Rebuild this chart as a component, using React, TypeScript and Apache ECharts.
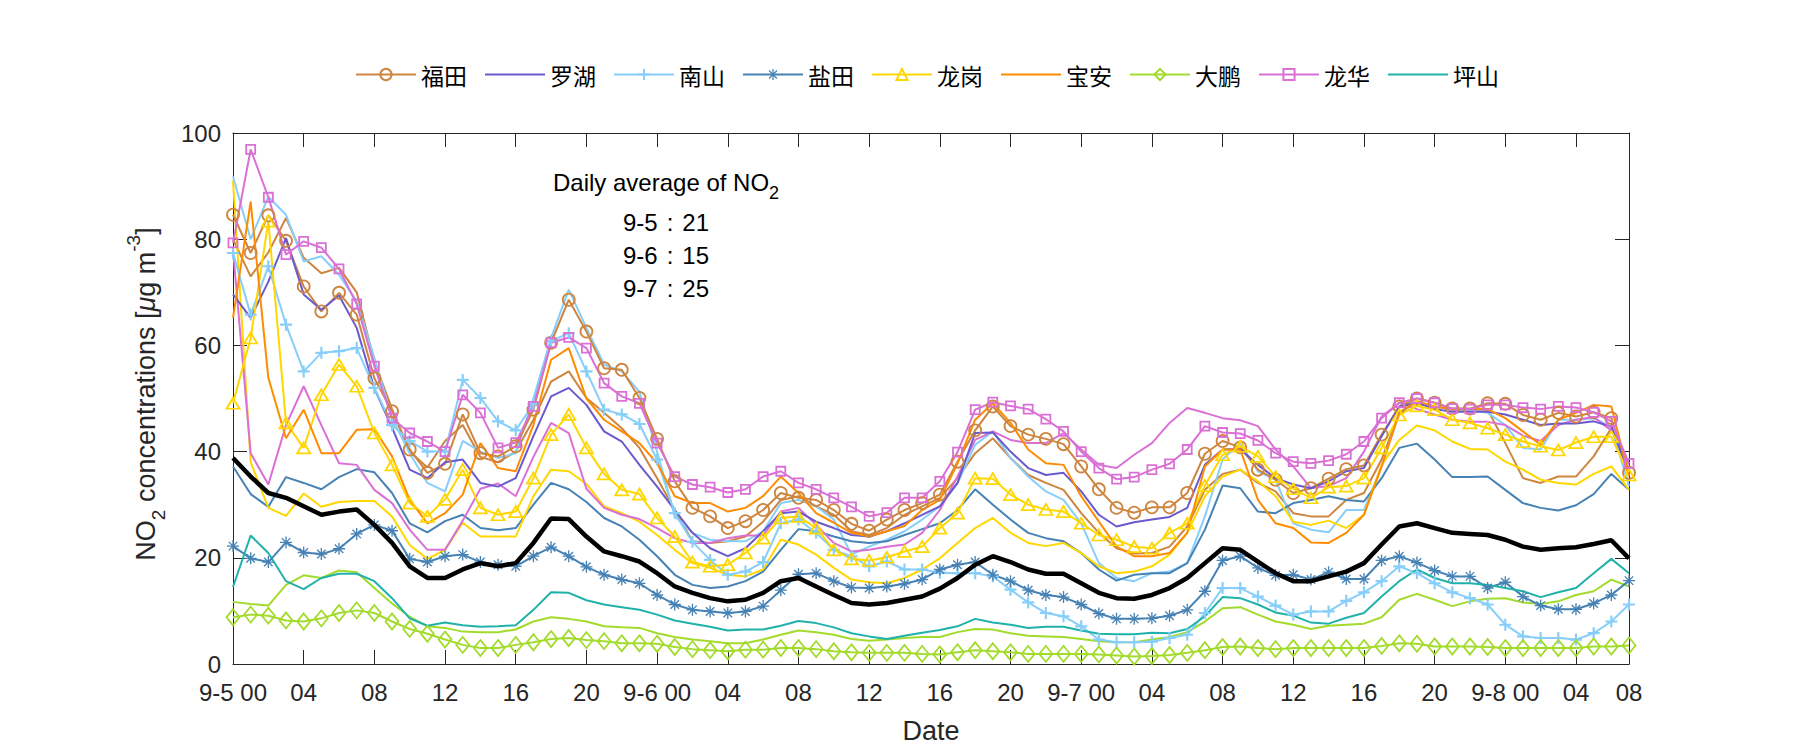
import React, { useEffect, useRef } from 'react';
import * as echarts from 'echarts';

// x tick positions (hour index) and their texts
const tickValues = [0, 4, 8, 12, 16, 20, 24, 28, 32, 36, 40, 44, 48, 52, 56, 60, 64, 68, 72, 76, 79];
const tickTexts = ['9-5 00', '04', '08', '12', '16', '20', '9-6 00', '04', '08', '12', '16', '20', '9-7 00', '04', '08', '12', '16', '20', '9-8 00', '04', '08'];

const stationNames = ['福田', '罗湖', '南山', '盐田', '龙岗', '宝安', '大鹏', '龙华', '坪山'];

const futian = [84.6, 77.4, 84.5, 79.7, 71.1, 66.4, 69.9, 65.8, 53.8, 47.6,
  40.4, 36.0, 37.7, 47.0, 39.7, 39.1, 41.0, 47.9, 60.5, 68.6,
  62.6, 55.7, 55.4, 50.1, 42.4, 34.4, 29.4, 27.8, 25.6, 26.9,
  29.0, 32.2, 31.3, 30.9, 29.0, 26.4, 25.1, 27.2, 29.0, 30.3,
  31.9, 38.1, 44.0, 48.5, 44.8, 43.2, 42.4, 41.4, 37.2, 32.9,
  29.4, 28.5, 29.5, 29.5, 32.2, 39.6, 42.0, 40.8, 36.6, 34.7,
  32.2, 33.1, 34.9, 36.7, 37.4, 43.2, 48.5, 50.0, 49.2, 48.1,
  48.1, 49.1, 49.0, 46.9, 46.0, 47.3, 46.6, 47.4, 46.3, 36.0];

const luohu = [69.6, 65.2, 72.0, 80.2, 69.6, 66.7, 69.4, 63.3, 51.9, 44.5,
  36.6, 35.0, 38.0, 38.5, 34.1, 33.4, 35.0, 42.9, 50.4, 52.0,
  48.8, 43.8, 41.9, 37.5, 33.4, 29.0, 24.7, 21.8, 20.3, 21.8,
  25.0, 28.4, 28.7, 26.8, 25.6, 24.3, 24.0, 25.0, 26.5, 28.1,
  29.7, 34.1, 43.5, 43.6, 40.0, 36.9, 35.6, 36.0, 32.5, 28.1,
  25.9, 26.7, 27.2, 27.7, 29.4, 37.5, 40.4, 40.5, 37.5, 35.0,
  33.8, 33.1, 34.4, 36.3, 36.9, 42.9, 48.5, 49.2, 48.0, 47.5,
  47.5, 47.5, 47.0, 46.0, 45.0, 45.3, 45.3, 45.7, 44.7, 36.0];

const nanshan = [77.4, 65.8, 74.9, 63.9, 55.1, 58.6, 58.9, 59.5, 52.0, 45.0,
  42.0, 40.0, 40.0, 53.5, 50.1, 45.7, 44.0, 49.0, 60.8, 62.3,
  55.1, 47.9, 47.0, 45.2, 38.5, 28.4, 23.0, 19.6, 16.8, 17.4,
  19.2, 26.5, 27.2, 24.7, 21.5, 20.3, 18.4, 19.3, 17.8, 17.8,
  17.2, 17.1, 17.1, 16.5, 14.0, 11.6, 9.6, 9.0, 7.1, 4.6,
  4.1, 4.1, 4.2, 4.9, 5.5, 9.6, 14.3, 14.3, 12.7, 11.0,
  9.3, 9.9, 9.9, 11.9, 13.5, 15.6, 18.4, 17.1, 15.2, 13.5,
  12.4, 11.2, 7.4, 5.2, 4.9, 4.9, 4.6, 5.8, 8.0, 11.2];

const yantian = [22.2, 19.9, 19.2, 22.9, 21.0, 20.7, 21.7, 24.5, 26.2, 25.1,
  19.8, 19.2, 20.3, 20.6, 19.2, 18.7, 18.4, 20.3, 22.0, 20.3,
  18.3, 16.8, 15.9, 15.2, 13.0, 11.2, 10.2, 9.9, 9.6, 9.9,
  10.9, 13.9, 16.9, 17.1, 15.6, 14.4, 14.3, 14.6, 15.1, 15.9,
  17.8, 18.7, 19.2, 16.8, 15.6, 13.9, 13.0, 12.6, 11.2, 9.5,
  8.5, 8.5, 8.6, 9.1, 10.2, 13.7, 19.5, 20.3, 18.1, 16.7,
  16.8, 15.9, 17.3, 16.0, 16.0, 19.5, 20.3, 19.1, 17.6, 16.5,
  16.5, 14.3, 15.4, 12.7, 11.0, 10.3, 10.3, 11.4, 13.0, 15.7];

const longgang = [49.1, 61.4, 83.4, 45.4, 40.7, 50.7, 56.4, 52.3, 43.5, 37.5,
  30.3, 27.8, 31.0, 36.6, 29.4, 28.1, 28.7, 35.0, 43.2, 47.0,
  40.7, 35.8, 32.8, 32.0, 27.5, 24.0, 19.2, 18.4, 18.7, 20.9,
  23.7, 27.5, 27.8, 25.6, 21.5, 19.8, 19.5, 20.1, 21.2, 22.1,
  25.6, 28.4, 35.0, 34.9, 31.9, 30.0, 29.1, 28.7, 26.5, 24.3,
  23.4, 22.1, 21.8, 24.7, 26.5, 33.6, 39.4, 41.0, 39.1, 35.3,
  33.0, 31.3, 33.3, 33.5, 35.0, 40.7, 46.9, 48.6, 47.9, 46.0,
  45.4, 44.4, 43.2, 41.9, 41.0, 40.3, 41.7, 42.8, 42.8, 35.6];

const baoan = [65.2, 87.1, 53.9, 42.5, 47.9, 39.7, 39.7, 44.1, 44.2, 39.1,
  30.9, 26.5, 28.4, 31.9, 41.6, 36.9, 36.3, 45.0, 57.3, 59.5,
  50.0, 46.0, 43.8, 41.6, 37.8, 31.6, 30.3, 30.3, 28.7, 29.4,
  31.6, 35.3, 32.2, 28.4, 26.6, 24.7, 24.0, 25.0, 26.0, 29.0,
  30.9, 37.8, 46.0, 49.1, 45.4, 40.4, 37.8, 37.5, 31.6, 26.8,
  22.1, 20.3, 20.3, 20.9, 24.7, 37.2, 40.4, 40.4, 30.9, 26.5,
  25.6, 22.9, 22.8, 24.7, 28.1, 37.2, 47.3, 49.5, 48.5, 48.0,
  48.0, 48.0, 46.3, 43.8, 41.3, 46.0, 47.3, 48.8, 48.5, 35.3];

const dapeng = [8.8, 9.3, 9.1, 8.2, 8.0, 8.6, 9.6, 10.1, 9.6, 8.0,
  6.6, 5.7, 4.6, 3.6, 3.0, 3.0, 3.6, 4.1, 4.7, 4.9,
  4.5, 4.3, 3.9, 3.9, 3.8, 3.2, 2.8, 2.6, 2.4, 2.7,
  2.7, 3.0, 3.0, 2.8, 2.4, 2.2, 2.1, 2.1, 2.1, 1.9,
  1.8, 2.2, 2.6, 2.4, 2.2, 1.9, 1.9, 1.9, 1.9, 1.8,
  1.6, 1.4, 1.5, 1.7, 2.1, 2.6, 3.2, 3.3, 3.0, 2.8,
  3.0, 3.0, 3.0, 3.0, 3.0, 3.4, 3.9, 3.8, 3.3, 3.3,
  3.3, 3.2, 3.0, 3.0, 3.0, 3.0, 3.0, 3.3, 3.3, 3.5];

const longhua = [79.3, 96.9, 87.9, 77.1, 79.6, 78.4, 74.4, 67.8, 56.1, 46.3,
  43.5, 41.9, 40.0, 50.7, 47.3, 40.7, 41.7, 48.5, 60.5, 61.5,
  59.5, 52.9, 50.4, 49.1, 41.6, 35.3, 33.8, 33.3, 32.3, 32.9,
  35.3, 36.3, 34.1, 32.9, 31.3, 29.6, 27.8, 28.5, 31.3, 31.3,
  34.4, 39.9, 47.9, 49.3, 48.6, 48.0, 46.1, 43.8, 40.0, 36.9,
  34.8, 35.2, 36.6, 37.7, 40.4, 44.8, 43.6, 43.4, 42.1, 39.7,
  38.1, 37.8, 38.3, 39.5, 41.9, 46.3, 49.2, 50.0, 49.2, 48.1,
  48.0, 48.8, 48.8, 48.3, 48.0, 48.5, 48.3, 47.4, 45.7, 37.8];

const pingshan = [14.5, 24.2, 20.9, 15.6, 14.1, 16.2, 17.0, 17.0, 15.6, 12.4,
  8.6, 7.2, 7.8, 7.3, 7.0, 7.1, 7.3, 10.2, 13.5, 13.4,
  12.0, 11.2, 10.7, 10.2, 9.3, 8.2, 7.6, 7.0, 6.3, 6.5,
  6.5, 7.2, 8.1, 7.7, 6.9, 5.8, 5.2, 4.7, 5.3, 5.9,
  6.4, 7.1, 8.5, 7.8, 7.4, 6.8, 7.0, 7.0, 6.3, 5.7,
  5.6, 5.6, 5.9, 5.8, 6.6, 9.0, 12.6, 12.4, 11.2, 9.7,
  9.1, 7.8, 7.6, 8.7, 9.6, 12.7, 15.6, 17.8, 16.2, 15.2,
  15.2, 14.9, 14.3, 13.7, 12.6, 13.5, 14.3, 17.1, 19.8, 17.1];

const cityAverage = [38.8, 35.3, 32.2, 31.3, 29.7, 28.1, 28.7, 29.1, 26.2, 22.8,
  18.4, 16.2, 16.2, 17.8, 19.0, 18.4, 19.0, 22.8, 27.4, 27.3,
  24.0, 21.2, 20.3, 19.3, 17.1, 14.6, 13.4, 12.4, 11.8, 12.1,
  13.4, 15.6, 16.2, 14.6, 13.0, 11.5, 11.2, 11.5, 12.1, 12.7,
  14.2, 16.2, 18.7, 20.3, 19.2, 17.8, 17.0, 17.0, 15.2, 13.4,
  12.4, 12.3, 13.0, 14.3, 16.2, 19.0, 21.8, 21.5, 19.3, 17.1,
  15.6, 15.6, 16.5, 17.4, 19.0, 22.5, 25.9, 26.5, 25.6, 24.7,
  24.5, 24.3, 23.4, 22.1, 21.5, 21.8, 22.0, 22.6, 23.3, 19.9];

// additional stations (drawn in their district colour, no legend entry)
const futian2 = [80.0, 73.0, 77.5, 84.0, 76.5, 73.6, 74.6, 70.0, 57.0, 48.0,
  40.0, 37.0, 42.0, 45.0, 39.0, 38.0, 40.0, 46.0, 53.2, 55.1,
  50.1, 47.3, 44.4, 40.7, 35.0, 29.0, 23.1, 22.8, 23.1, 24.0,
  26.8, 30.9, 31.6, 29.7, 28.1, 25.0, 24.3, 25.6, 28.1, 29.7,
  31.3, 35.0, 39.7, 42.5, 38.8, 35.6, 34.1, 32.8, 28.4, 24.7,
  21.8, 20.8, 20.9, 22.1, 25.9, 32.8, 35.8, 36.6, 34.1, 32.5,
  28.4, 27.8, 27.8, 30.9, 32.2, 38.5, 47.3, 49.3, 48.5, 47.9,
  47.9, 47.9, 41.6, 35.0, 34.1, 35.3, 35.3, 39.1, 44.4, 36.3];

const nanshan2 = [91.8, 80.0, 88.0, 84.6, 75.8, 76.8, 73.3, 68.3, 57.6, 46.3,
  39.7, 34.1, 32.5, 42.0, 40.0, 38.8, 39.7, 50.0, 61.4, 70.5,
  63.3, 56.4, 55.1, 51.3, 40.0, 27.8, 24.7, 23.4, 23.1, 23.1,
  25.0, 30.3, 30.9, 29.7, 27.2, 20.6, 22.1, 23.4, 25.0, 27.2,
  29.7, 34.0, 41.3, 43.8, 38.8, 35.3, 32.5, 30.9, 26.5, 19.0,
  16.2, 15.6, 17.1, 17.4, 19.0, 27.8, 38.5, 41.6, 36.3, 34.7,
  26.5, 25.3, 24.8, 29.0, 29.0, 37.2, 47.3, 49.2, 48.5, 48.0,
  47.9, 47.3, 45.0, 40.7, 40.4, 46.0, 46.0, 46.3, 44.7, 33.5];

const yantian2 = [37.2, 32.0, 29.6, 35.2, 34.1, 32.9, 35.2, 36.7, 36.1, 32.2,
  26.5, 24.8, 26.9, 28.1, 25.6, 25.2, 25.6, 30.0, 34.1, 32.9,
  30.5, 27.5, 25.9, 23.4, 20.3, 16.8, 14.9, 14.3, 14.6, 15.6,
  17.4, 21.5, 25.4, 25.0, 24.0, 23.1, 22.8, 23.1, 24.3, 25.4,
  26.5, 29.0, 32.9, 30.0, 27.2, 24.7, 23.7, 23.1, 20.9, 17.8,
  15.7, 16.8, 17.1, 17.1, 19.0, 25.3, 33.6, 33.1, 28.7, 28.4,
  30.3, 30.9, 31.6, 30.9, 30.6, 35.0, 40.7, 41.5, 38.5, 35.2,
  35.2, 35.3, 32.8, 30.3, 29.4, 28.9, 29.9, 32.0, 35.8, 32.8];

const longgang2 = [91.0, 38.0, 29.4, 27.9, 32.1, 29.6, 30.5, 30.7, 30.7, 27.8,
  22.4, 19.8, 21.5, 26.6, 24.0, 24.0, 24.0, 31.6, 36.6, 36.3,
  33.9, 29.7, 28.4, 26.8, 24.3, 21.5, 19.0, 18.1, 16.8, 16.5,
  17.8, 23.4, 22.5, 20.6, 18.1, 15.9, 15.4, 15.2, 16.2, 17.8,
  19.9, 22.8, 25.6, 27.5, 24.7, 22.8, 22.2, 22.8, 20.9, 18.4,
  17.1, 17.4, 18.4, 20.6, 24.7, 31.6, 35.3, 36.6, 34.4, 31.6,
  26.8, 26.2, 27.0, 25.6, 28.1, 37.5, 42.2, 44.9, 44.0, 41.9,
  40.5, 40.4, 38.1, 36.6, 34.7, 34.1, 33.8, 35.8, 37.2, 32.8];

const longhua2 = [78.0, 39.7, 33.8, 45.0, 52.3, 45.0, 37.8, 37.5, 32.8, 30.3,
  25.3, 21.5, 21.5, 27.0, 33.0, 34.0, 31.6, 39.0, 45.4, 43.5,
  33.0, 29.4, 28.1, 27.3, 25.6, 23.7, 22.8, 22.8, 23.7, 24.2,
  24.2, 28.7, 29.4, 26.2, 22.8, 21.2, 21.5, 22.1, 22.5, 24.7,
  29.0, 35.3, 42.2, 43.8, 42.2, 41.6, 41.6, 43.5, 40.4, 37.5,
  36.9, 39.4, 41.6, 45.4, 48.2, 47.3, 46.3, 45.9, 44.8, 40.4,
  37.2, 33.1, 33.5, 35.0, 40.0, 46.6, 49.2, 48.0, 47.0, 46.0,
  45.6, 45.6, 45.0, 43.0, 42.0, 45.0, 46.0, 46.5, 44.0, 37.5];

const dapeng2 = [11.7, 11.3, 11.0, 14.9, 16.7, 16.2, 17.6, 17.3, 14.3, 11.4,
  8.9, 7.1, 6.8, 6.1, 6.0, 6.0, 6.5, 8.0, 8.8, 8.5,
  8.0, 7.1, 6.9, 6.8, 5.8, 5.1, 4.6, 4.3, 3.9, 3.9,
  4.6, 5.5, 6.3, 6.0, 5.5, 4.7, 4.4, 4.6, 4.9, 5.1,
  5.1, 6.0, 6.6, 6.5, 5.8, 5.3, 5.2, 5.1, 4.7, 4.3,
  4.1, 4.1, 4.6, 5.1, 6.0, 8.0, 10.5, 10.7, 9.3, 8.0,
  7.4, 6.6, 7.2, 7.4, 7.6, 8.8, 12.1, 13.2, 12.1, 10.9,
  11.8, 12.3, 12.4, 11.6, 11.3, 11.8, 13.0, 13.7, 15.9, 14.6];

const dailyAverageDays = ['9-5', '9-6', '9-7'];
const dailyAverageValues = [21, 15, 25];

const COLORS = {
  futian: '#CD853F',
  luohu: '#6A5ACD',
  nanshan: '#87CEFA',
  yantian: '#4682B4',
  longgang: '#FFD700',
  baoan: '#FF8C00',
  dapeng: '#A3DB2C',
  longhua: '#DA70D6',
  pingshan: '#20B2AA',
};

const AXIS = '#262626';
const FONT = '"Liberation Sans", Arial, sans-serif';
const CLEAR = 'rgba(255,255,255,0)';

const PLUS = 'path://M8.2,0 L11.8,0 L11.8,8.2 L20,8.2 L20,11.8 L11.8,11.8 L11.8,20 L8.2,20 L8.2,11.8 L0,11.8 L0,8.2 L8.2,8.2 Z';
const STAR = 'path://M8.9,0 L11.1,0 L11.1,8.9 L20,8.9 L20,11.1 L11.1,11.1 L11.1,20 L8.9,20 L8.9,11.1 L0,11.1 L0,8.9 L8.9,8.9 Z ' +
  'M3.7,2.15 L17.85,16.3 L16.3,17.85 L2.15,3.7 Z M17.85,3.7 L3.7,17.85 L2.15,16.3 L16.3,2.15 Z';

const hours = futian.map((_, i) => i);
const toPoints = (vals: number[]) => vals.map((v, i) => [hours[i], v]);

function plainLine(name: string, vals: number[], color: string, width = 2, z = 2) {
  return {
    name,
    type: 'line',
    data: toPoints(vals),
    symbol: 'none',
    showSymbol: false,
    lineStyle: { color, width },
    itemStyle: { color: CLEAR, borderWidth: 0 },
    z,
    silent: true,
  };
}

function hollowMarkerLine(name: string, vals: number[], color: string, symbol: string, size: any) {
  return {
    name,
    type: 'line',
    data: toPoints(vals),
    symbol,
    symbolSize: size,
    showSymbol: true,
    lineStyle: { color, width: 2 },
    itemStyle: { color: CLEAR, borderColor: color, borderWidth: 1.8 },
    z: 3,
    silent: true,
  };
}

function filledMarkerLine(name: string, vals: number[], color: string, symbol: string, size: number) {
  return {
    name,
    type: 'line',
    data: toPoints(vals),
    symbol,
    symbolSize: size,
    showSymbol: true,
    lineStyle: { color, width: 2 },
    itemStyle: { color, borderWidth: 0 },
    z: 3,
    silent: true,
  };
}

export default function App() {
  const ref = useRef<HTMLDivElement>(null);

  useEffect(() => {
    if (!ref.current) return;
    const chart = echarts.init(ref.current, undefined, { renderer: 'svg' });

    const labelFor = (v: number) => {
      const i = tickValues.indexOf(Math.round(v));
      return i >= 0 ? tickTexts[i] : '';
    };

    const xCommon = {
      type: 'value',
      min: 0,
      max: 79,
      interval: 4,
      splitLine: { show: false },
      axisLine: { show: true, onZero: false, lineStyle: { color: AXIS, width: 1 } },
      axisTick: { show: true, inside: true, length: 14, lineStyle: { color: AXIS, width: 1 } },
    };
    const yCommon = {
      type: 'value',
      min: 0,
      max: 100,
      interval: 20,
      splitLine: { show: false },
      axisLine: { show: true, onZero: false, lineStyle: { color: AXIS, width: 1 } },
      axisTick: { show: true, inside: true, length: 14, lineStyle: { color: AXIS, width: 1 } },
    };

    const series: any[] = [
      plainLine('福田-2', futian2, COLORS.futian),
      plainLine('南山-2', nanshan2, COLORS.nanshan),
      plainLine('盐田-2', yantian2, COLORS.yantian),
      plainLine('龙岗-2', longgang2, COLORS.longgang),
      plainLine('龙华-2', longhua2, COLORS.longhua),
      plainLine('大鹏-2', dapeng2, COLORS.dapeng),
      hollowMarkerLine('福田', futian, COLORS.futian, 'circle', 12),
      plainLine('罗湖', luohu, COLORS.luohu, 2, 3),
      filledMarkerLine('南山', nanshan, COLORS.nanshan, PLUS, 12),
      filledMarkerLine('盐田', yantian, COLORS.yantian, STAR, 12),
      hollowMarkerLine('龙岗', longgang, COLORS.longgang, 'triangle', [13, 11]),
      plainLine('宝安', baoan, COLORS.baoan, 2, 3),
      hollowMarkerLine('大鹏', dapeng, COLORS.dapeng, 'diamond', [13, 16]),
      hollowMarkerLine('龙华', longhua, COLORS.longhua, 'rect', 9),
      plainLine('坪山', pingshan, COLORS.pingshan, 2, 3),
      plainLine('平均', cityAverage, '#000000', 4.5, 4),
    ];

    const tokenStyle = { fontSize: 24, fontFamily: FONT, fill: '#000' };

    chart.setOption({
      animation: false,
      backgroundColor: '#ffffff',
      grid: { left: 233, right: 171, top: 133, bottom: 86, containLabel: false },
      legend: {
        data: stationNames,
        top: 58,
        left: 350,
        itemWidth: 60,
        itemHeight: 14,
        itemGap: 17,
        selectedMode: false,
        textStyle: { fontSize: 23, color: '#000', fontFamily: '"Noto Sans CJK SC", sans-serif' },
      },
      xAxis: [
        {
          ...xCommon,
          position: 'bottom',
          axisLabel: { show: true, margin: 16, fontSize: 24, color: AXIS, fontFamily: FONT, formatter: labelFor },
          name: 'Date',
          nameLocation: 'middle',
          nameGap: 53,
          nameTextStyle: { fontSize: 27, color: AXIS, fontFamily: FONT },
        },
        { ...xCommon, position: 'top', axisLabel: { show: false } },
      ],
      yAxis: [
        {
          ...yCommon,
          position: 'left',
          axisLabel: { show: true, margin: 12, fontSize: 24, color: AXIS, fontFamily: FONT },
        },
        { ...yCommon, position: 'right', axisLabel: { show: false } },
      ],
      graphic: [
        {
          type: 'text',
          x: 146,
          y: 394,
          rotation: Math.PI / 2,
          style: {
            text: '{n|NO}{s|2}{n| concentrations [}{m|μ}{n|g m}{p|-3}{n|]}',
            align: 'center',
            verticalAlign: 'middle',
            fill: AXIS,
            rich: {
              n: { fontSize: 27, fontFamily: FONT, fill: AXIS, lineHeight: 44, verticalAlign: 'middle' },
              m: { fontSize: 27, fontFamily: FONT, fontStyle: 'italic', fill: AXIS, lineHeight: 44, verticalAlign: 'middle' },
              s: { fontSize: 19, fontFamily: FONT, fill: AXIS, lineHeight: 22, verticalAlign: 'bottom' },
              p: { fontSize: 19, fontFamily: FONT, fill: AXIS, lineHeight: 22, verticalAlign: 'top' },
            },
          },
        },
        {
          type: 'text',
          x: 553,
          y: 182,
          style: {
            text: '{a|Daily average of NO}{b|2}',
            align: 'left',
            verticalAlign: 'middle',
            fill: '#000',
            rich: {
              a: { fontSize: 24, fontFamily: FONT, fill: '#000', lineHeight: 40, verticalAlign: 'middle' },
              b: { fontSize: 18, fontFamily: FONT, fill: '#000', lineHeight: 16, verticalAlign: 'bottom' },
            },
          },
        },
        ...dailyAverageDays.map((d, i) => ({
          type: 'text',
          x: 623,
          y: 222 + i * 33.3,
          style: {
            text: `{t|${d}}{g| }{t|:}{g| }{t|${dailyAverageValues[i]}}`,
            align: 'left',
            verticalAlign: 'middle',
            fill: '#000',
            rich: {
              t: tokenStyle,
              g: { ...tokenStyle, width: 9 },
            },
          },
        })),
      ],
      series,
    });

    return () => {
      chart.dispose();
    };
  }, []);

  return (
    <div
      ref={ref}
      style={{ position: 'fixed', left: 0, top: 0, width: 1800, height: 750, background: '#fff' }}
    />
  );
}
